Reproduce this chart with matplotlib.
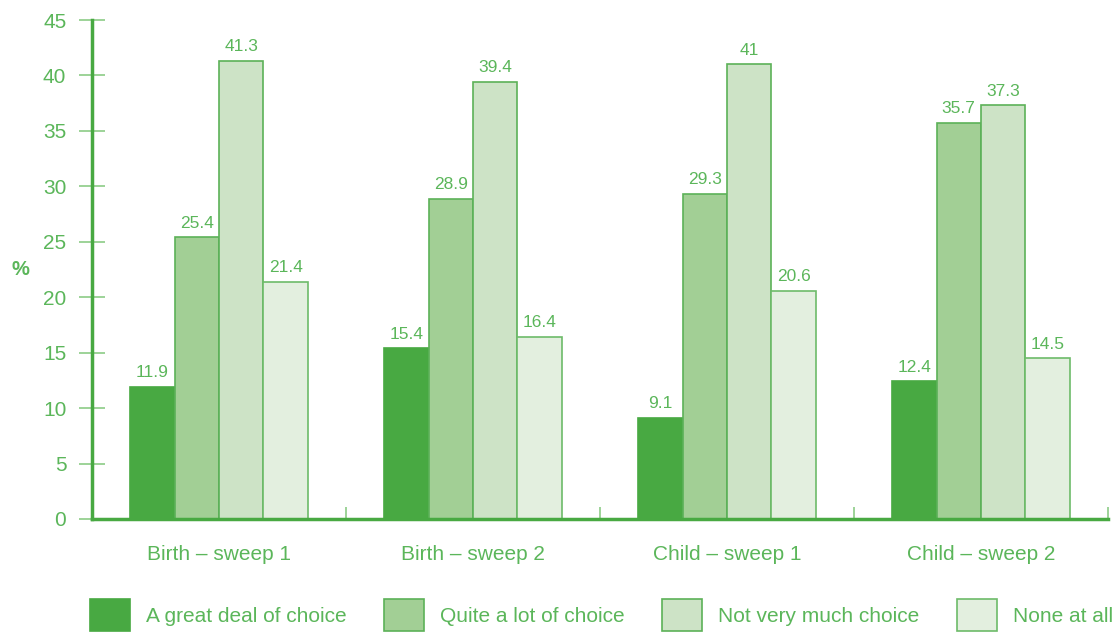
import numpy as np
import matplotlib.pyplot as plt

plt.rcParams['font.family'] = ['Liberation Sans', 'DejaVu Sans']

# data
groups = ['Birth – sweep 1', 'Birth – sweep 2', 'Child – sweep 1', 'Child – sweep 2']
series = ['A great deal of choice', 'Quite a lot of choice', 'Not very much choice', 'None at all']
great_deal = [11.9, 15.4, 9.1, 12.4]
quite_a_lot = [25.4, 28.9, 29.3, 35.7]
not_much = [41.3, 39.4, 41, 37.3]
none_at_all = [21.4, 16.4, 20.6, 14.5]
values = [great_deal, quite_a_lot, not_much, none_at_all]

fills = ['#48a942', '#a2cf95', '#cde3c6', '#e3efdf']
edges = ['#48a942', '#5cb158', '#5cb158', '#6dbb69']
txt = '#5bb65a'
axis_col = '#48a942'
tick_col = '#8ccc86'

fig = plt.figure(figsize=(11.17, 6.35), dpi=100)
ax = fig.add_axes([92 / 1117, 1 - 519 / 635, (1108 - 92) / 1117, (519 - 20) / 635])

x = np.arange(len(groups))
w = 0.175
for i, (vals, name) in enumerate(zip(values, series)):
    pos = x + (i - 1.5) * w
    bars = ax.bar(pos, vals, w, color=fills[i], edgecolor=edges[i], linewidth=1.2, label=name)
    for b, v in zip(bars, vals):
        ax.text(b.get_x() + b.get_width() / 2, v + 0.6, f'{v:g}', ha='center', va='bottom',
                fontsize=12.5, color=txt)

ax.set_xlim(-0.5, 3.5)
ax.set_ylim(0, 45)
ax.set_yticks(np.arange(0, 46, 5))
ax.tick_params(axis='y', direction='inout', length=19, width=1.2, color=tick_col,
               labelsize=15, labelcolor=txt, pad=9)
ax.set_xticks(x)
ax.set_xticklabels(groups)
ax.tick_params(axis='x', length=0, labelsize=15, labelcolor=txt, pad=19)
# minor ticks at group boundaries
ax.set_xticks([0.5, 1.5, 2.5, 3.5], minor=True)
ax.tick_params(axis='x', which='minor', direction='in', length=9, width=1.2, color=tick_col)

for s in ['top', 'right']:
    ax.spines[s].set_visible(False)
ax.spines['left'].set_color(axis_col)
ax.spines['left'].set_linewidth(2.5)
ax.spines['bottom'].set_color(axis_col)
ax.spines['bottom'].set_linewidth(2.5)

ax.set_ylabel('%', rotation=0, fontsize=14.5, fontweight='bold', color=txt, va='center')
ax.yaxis.set_label_coords(-72 / 1016, 0.5)

fig.legend(loc='center left', bbox_to_anchor=(90 / 1117, 20 / 635), ncol=4, frameon=False,
           fontsize=15, handlelength=1.92, handleheight=1.92, handletextpad=0.77,
           columnspacing=1.8, borderpad=0, borderaxespad=0, labelcolor=txt)

fig.savefig('out.png', dpi=100)
